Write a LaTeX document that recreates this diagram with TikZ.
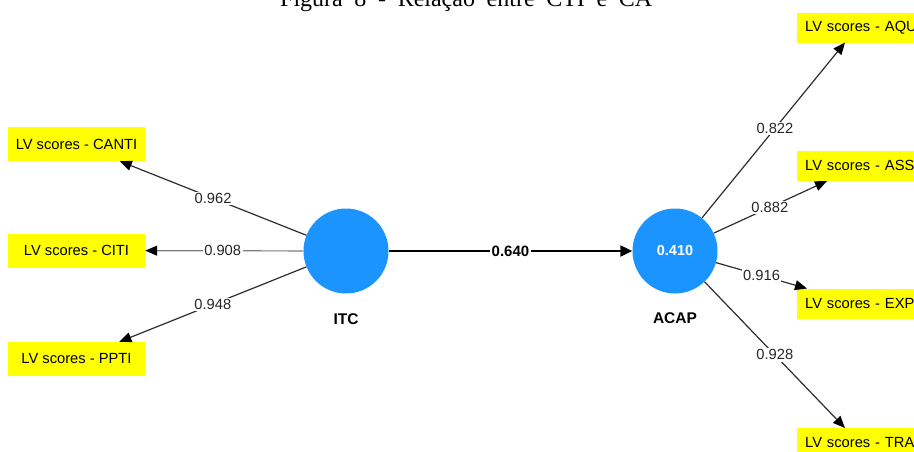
\documentclass[tikz,border=0pt]{standalone}
\usepackage{fontspec}
\setmainfont{Liberation Sans}
\newfontfamily\titlefont{Liberation Serif}
\usetikzlibrary{arrows.meta}
\definecolor{lvblue}{RGB}{28,148,255}
\definecolor{lvyellow}{RGB}{255,255,0}
\definecolor{edgegray}{RGB}{45,45,45}
\definecolor{lightedge}{RGB}{125,125,125}
\begin{document}
\begin{tikzpicture}[x=1pt,y=-1pt,
  lvbox/.style={fill=lvyellow, draw=none, minimum width=137pt, minimum height=34pt,
    inner sep=0pt, font=\fontsize{14.7}{17}\selectfont},
  rbox/.style={fill=lvyellow, draw=none, anchor=west, text width=130pt, align=left,
    inner xsep=8pt, inner ysep=0pt, minimum height=30pt, font=\fontsize{14.7}{17}\selectfont},
  latent/.style={circle, fill=lvblue, minimum size=85pt, inner sep=0pt,
    font=\bfseries\fontsize{14.5}{17}\selectfont, text=white},
  lvname/.style={font=\bfseries\fontsize{15.5}{18}\selectfont},
  loading/.style={draw=edgegray, line width=1.2pt,
    -{Triangle[length=12pt,width=10pt,color=black]}},
  wlbl/.style={fill=white, inner sep=1.5pt, text=black!85, font=\fontsize{14.7}{17}\selectfont},
  pathlbl/.style={fill=white, inner sep=1.5pt, font=\bfseries\fontsize{15}{17}\selectfont},
]
\clip (0,0) rectangle (914,451);

% title (partly outside the picture)
\node[anchor=base west, inner sep=0pt, font=\titlefont\fontsize{24}{28}\selectfont]
  (title) at (280,6.8) {\makebox[372pt][s]{Figura 8 - Relação entre CTI e CA}};

% latent variables
\node[latent] (itc) at (346,251) {};
\node[latent] (acap) at (675,251) {0.410};
\node[lvname] (itcname) at (346,319) {ITC};
\node[lvname] (acapname) at (675,318) {ACAP};

% left indicator boxes
\node[lvbox] (canti) at (76.5,144) {LV scores - CANTI};
\node[lvbox] (citi) at (76.5,250.5) {LV scores - CITI};
\node[lvbox] (ppti) at (76.5,359) {LV scores - PPTI};

% right indicator boxes
\node[rbox] (aqu) at (797,27.5) {LV scores - AQU};
\node[rbox] (ass) at (797,165.5) {LV scores - ASS};
\node[rbox] (exp) at (797,303.5) {LV scores - EXP};
\node[rbox] (tra) at (797,443) {LV scores - TRA};

% arrow end points on the right boxes
\coordinate (taqu) at (845,42.5);
\coordinate (tass) at (827,181);
\coordinate (texp) at (807,288.5);
\coordinate (ttra) at (845,428);

% outer loadings
\draw[loading] (itc) -- (canti) node[wlbl, pos=0.5] {0.962};
\draw[loading, draw=lightedge] (itc) -- (citi) node[wlbl, pos=0.51] {0.908};
\draw[loading] (itc) -- (ppti) node[wlbl, pos=0.5] {0.948};

\draw[loading] (acap) -- (taqu) node[wlbl, pos=0.51] {0.822};
\draw[loading] (acap) -- (tass) node[wlbl, pos=0.495] {0.882};
\draw[loading] (acap) -- (texp) node[wlbl, pos=0.5] {0.916};
\draw[loading] (acap) -- (ttra) node[wlbl, pos=0.5] {0.928};

% path coefficient
\draw[line width=2.2pt, -{Triangle[length=12pt,width=11pt]}] (itc) -- (acap)
  node[pathlbl, pos=0.5] {0.640};
\end{tikzpicture}
\end{document}
